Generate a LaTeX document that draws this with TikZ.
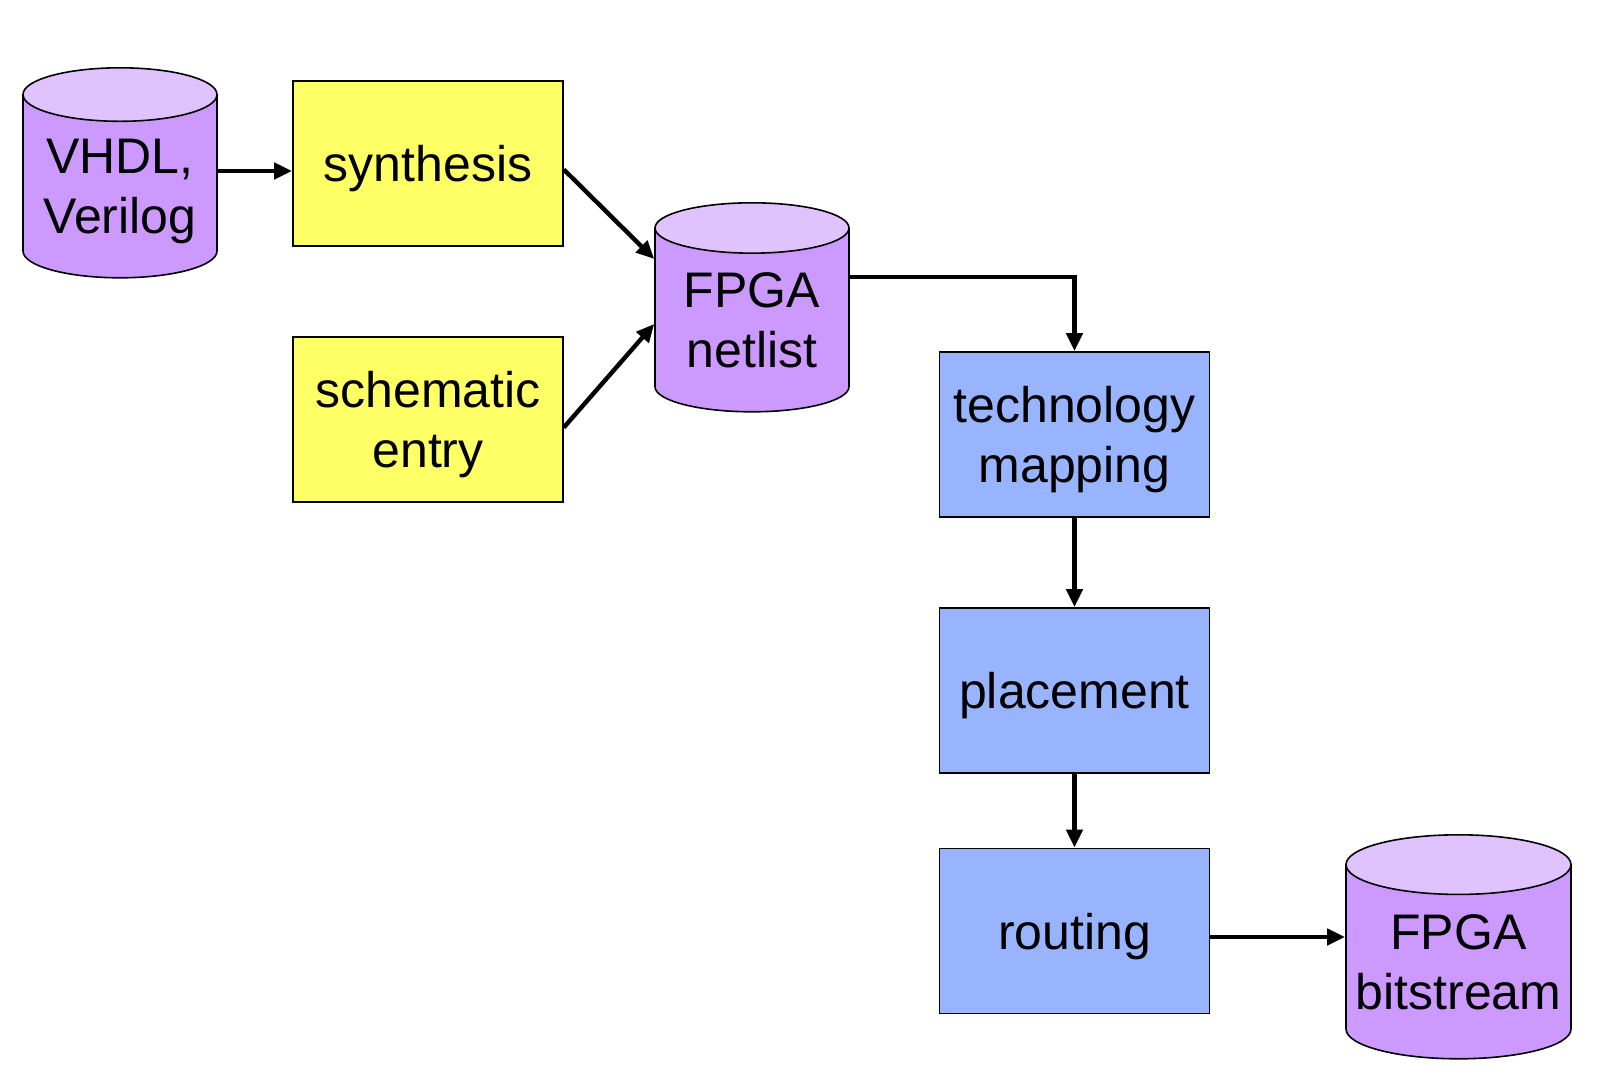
\documentclass[tikz,border=0pt]{standalone}
\usepackage{fontspec}
\setmainfont{Liberation Sans}
\usepackage{tikz}
\usetikzlibrary{calc}
\usetikzlibrary{shapes.geometric}
\usetikzlibrary{arrows.meta}
\definecolor{dbbody}{RGB}{204,153,255}
\definecolor{dbtop}{RGB}{224,194,255}
\definecolor{srcyellow}{RGB}{255,255,102}
\definecolor{toolblue}{RGB}{153,180,255}
\tikzset{
  dbase/.style={cylinder, shape border rotate=90, anchor=north, draw, line width=0.8pt,
    cylinder uses custom fill, cylinder body fill=dbbody, cylinder end fill=dbtop,
    align=center, inner sep=0pt, text depth=0pt, font=\fontsize{25}{30}\selectfont},
  srcbox/.style={rectangle, draw, line width=0.8pt, fill=srcyellow, minimum width=135pt,
    minimum height=82.5pt, align=center, text depth=0pt, font=\fontsize{25}{30}\selectfont},
  toolbox/.style={srcbox, fill=toolblue},
  flow/.style={line width=2.2pt, -{Triangle[length=9pt,width=8pt]}}
}

\begin{document}
\begin{tikzpicture}[x=0.5pt, y=-0.5pt]
        \fill[white] (0,0) rectangle (1624,1092);
        \useasboundingbox (0,0) rectangle (1624,1092);
        % sources
        \node[dbase, aspect=0.35, minimum width=97pt, minimum height=105pt] (vhdl) at (120,67) {VHDL,\\Verilog};
        \node[srcbox] (synth) at (428,163.5) {synthesis};
        \node[srcbox] (schem) at (428,419.5) {schematic\\entry};
        % netlist
        \node[dbase, aspect=0.37, minimum width=97pt, minimum height=104.5pt] (netlist) at (752,202) {FPGA\\netlist};
        % tool chain
        \node[toolbox] (tech) at (1074.5,434.5) {technology\\mapping};
        \node[toolbox] (place) at (1074.5,690.5) {placement};
        \node[toolbox] (route) at (1074.5,931) {routing};
        % bitstream
        \node[dbase, aspect=0.29, minimum width=112.5pt, minimum height=112pt] (bits) at (1458.5,834) {FPGA\\bitstream};

        % arrows
        \coordinate (vs) at ($(synth.west)+(0,7.5)$);
        \draw[flow] (vs -| vhdl.east) -- (vs);
        \draw[flow] ($(synth.east)+(0,6)$) -- ($(netlist.west |- netlist.north)+(0,57)$);
        \draw[flow] ($(schem.east)+(0,8)$) -- ($(netlist.west |- netlist.north)+(0,122)$);
        \draw[flow] ($(netlist.east |- netlist.north)+(0,75)$) -| (tech.north);
        \draw[flow] (tech) -- (place);
        \draw[flow] (place) -- (route);
        \coordinate (rb) at ($(route.east)+(0,6)$);
        \draw[flow] (rb) -- (rb -| bits.west);
\end{tikzpicture}
\end{document}
